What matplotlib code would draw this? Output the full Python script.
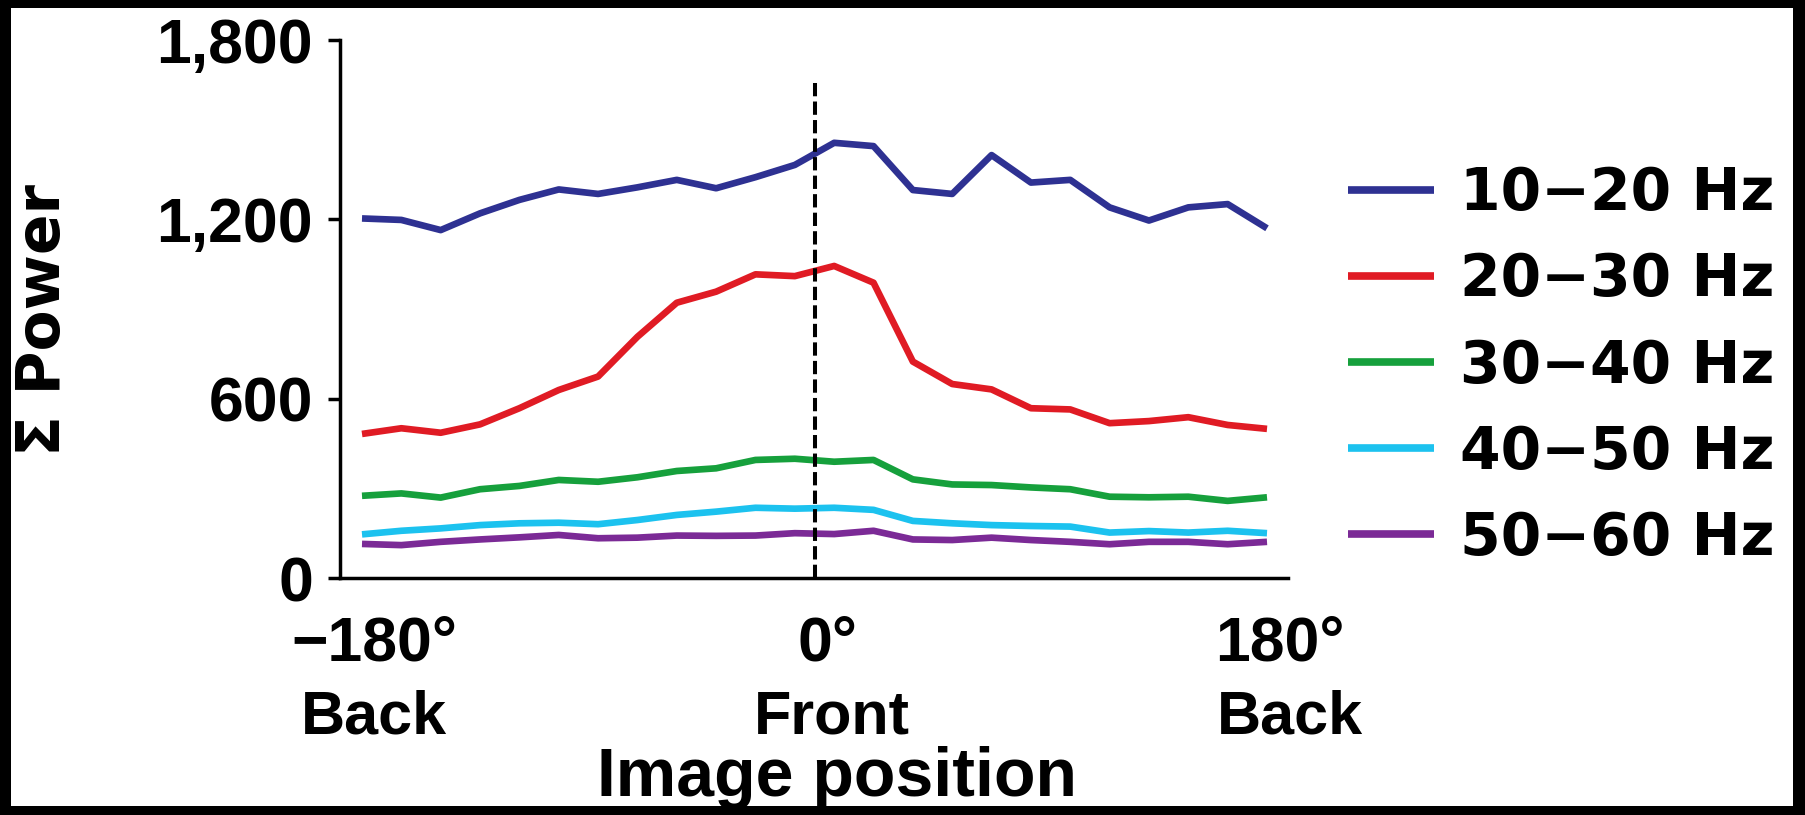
import numpy as np
import matplotlib
matplotlib.use("Agg")
import matplotlib.pyplot as plt
import matplotlib.transforms as mtransforms
from matplotlib.patches import Rectangle

# ---- data ----
image_position_deg = np.linspace(-180, 180, 24)
band_labels = ["10\u221220 Hz", "20\u221230 Hz", "30\u221240 Hz", "40\u221250 Hz", "50\u221260 Hz"]
power_10_20 = [1203, 1198, 1164, 1220, 1265, 1300, 1285, 1307, 1332, 1304, 1341, 1382,
               1456, 1445, 1298, 1285, 1415, 1323, 1332, 1240, 1196, 1240, 1251, 1170]
power_20_30 = [482, 501, 486, 514, 568, 629, 674, 807, 921, 958, 1016, 1010,
               1044, 988, 724, 649, 631, 568, 564, 518, 525, 538, 512, 499]
power_30_40 = [275, 283, 269, 297, 308, 328, 322, 337, 358, 367, 395, 399,
               389, 395, 330, 313, 311, 303, 297, 272, 270, 272, 258, 270]
power_40_50 = [146, 158, 166, 177, 183, 185, 180, 194, 211, 222, 235, 232,
               235, 228, 191, 183, 177, 174, 172, 152, 157, 152, 158, 150]
power_50_60 = [114, 110, 121, 129, 136, 144, 133, 135, 142, 141, 142, 150,
               147, 158, 129, 127, 135, 127, 121, 113, 121, 121, 113, 121]
series = [power_10_20, power_20_30, power_30_40, power_40_50, power_50_60]
colors = ["#2e3192", "#e01b24", "#16a03c", "#1cc2ef", "#7b2a96"]

y_ticks = [0, 600, 1200, 1800]
y_ticklabels = ["0", "600", "1,200", "1,800"]
x_ticks = [-180, 0, 180]
x_ticklabels = ["\u2212180\u00b0", "0\u00b0", "180\u00b0"]
x_sublabels = ["Back", "Front", "Back"]
front_line_top = 1656

W, H = 1806, 815
fig = plt.figure(figsize=(W / 100, H / 100), dpi=100, facecolor="black")
fig.patches.append(Rectangle((11 / W, (H - 806) / H), (1793 - 11) / W, (806 - 8) / H,
                             transform=fig.transFigure, facecolor="white",
                             edgecolor="none", zorder=-5))

ax = fig.add_axes([340 / W, (H - 578) / H, 948 / W, 538 / H])
ax.set_facecolor("none")

for vals, lab, col in zip(series, band_labels, colors):
    ax.plot(image_position_deg, vals, color=col, lw=4.8, label=lab,
            solid_joinstyle="round", solid_capstyle="butt")

ax.plot([0, 0], [0, front_line_top], color="black", lw=2.9, dashes=(3.3, 1.3), zorder=5)

ax.set_xlim(-188.75, 188.35)
ax.set_ylim(0, 1800)

for s in ["top", "right"]:
    ax.spines[s].set_visible(False)
for s in ["left", "bottom"]:
    ax.spines[s].set_linewidth(2.5)

tick_font = dict(family="Liberation Sans", weight="bold", size=45)
ax.set_yticks(y_ticks)
ax.set_yticklabels(y_ticklabels, fontdict=tick_font)
ax.tick_params(axis="y", direction="out", length=8.5, width=2.5, pad=11)
ax.set_xticks(x_ticks)
ax.set_xticklabels(x_ticklabels, fontdict=tick_font)
ax.tick_params(axis="x", length=0, pad=26)
offset = mtransforms.ScaledTranslation(9 / 72, 0, fig.dpi_scale_trans)
for lbl in ax.get_xticklabels():
    lbl.set_transform(lbl.get_transform() + offset)

sub_font = dict(family="Liberation Sans", weight="bold", size=44)
for px, txt in zip([374, 832, 1290], x_sublabels):
    fig.text(px / W, 1 - 734 / H, txt, ha="center", va="baseline", **sub_font)

fig.text(837 / W, 1 - 796 / H, "Image position", ha="center", va="baseline",
         family="Liberation Sans", weight="bold", size=49)
fig.text(44 / W, 1 - 320 / H, "\u03a3 Power", rotation=90, ha="center", va="center",
         family="DejaVu Sans", weight="bold", size=43)

leg = ax.legend(loc="center left", bbox_to_anchor=(1348 / W, 1 - 366 / H),
                bbox_transform=fig.transFigure, frameon=False, borderpad=0,
                borderaxespad=0, handlelength=1.475, handletextpad=0.45,
                labelspacing=0.50,
                prop=dict(family="DejaVu Sans", weight="bold", size=42))
for ln in leg.get_lines():
    ln.set_linewidth(5.5)

fig.savefig("out.png", dpi=100, facecolor=fig.get_facecolor())
